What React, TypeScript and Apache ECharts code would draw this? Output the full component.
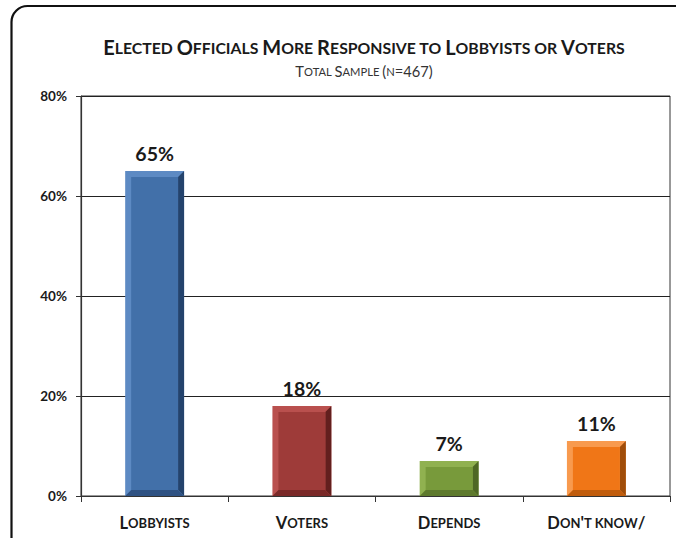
import React, { useEffect, useRef } from "react";
import * as echarts from "echarts";

const titleText = "Elected Officials More Responsive to Lobbyists or Voters";
const subtitleText = "Total Sample (n=467)";
const categories = ["Lobbyists", "Voters", "Depends", "Don't know/"];
const values = [65, 18, 7, 11];
const faceColors = ["#4270a9", "#9e3b39", "#789a3b", "#f07617"];
const lightColors = ["#5d8ac3", "#b9504e", "#90b150", "#f89a4e"];
const darkColors = ["#24436c", "#621f1e", "#4e6725", "#a04d0a"];
const midDarkColors = ["#2f5283", "#7a2928", "#5e7a2d", "#c05c0c"];
const yTicks = [0, 20, 40, 60, 80];

function toRich(s: string, big: string, small: string): string {
  let out = "";
  let cur = "";
  let curType = "";
  for (const ch of s) {
    const isLower = ch >= "a" && ch <= "z";
    const t = isLower ? small : ch === " " ? (curType || small) : big;
    const c = isLower ? ch.toUpperCase() : ch;
    if (t !== curType && cur) {
      out += `{${curType}|${cur}}`;
      cur = "";
    }
    curType = t;
    cur += c;
  }
  if (cur) out += `{${curType}|${cur}}`;
  return out;
}

export default function App() {
  const ref = useRef<HTMLDivElement>(null);
  useEffect(() => {
    if (!ref.current) return;
    const chart = echarts.init(ref.current, undefined, { renderer: "svg" });
    const font = "Lato, 'Open Sans', sans-serif";
    const option: any = {
      animation: false,
      backgroundColor: "#ffffff",
      grid: {
        left: 81,
        right: 6,
        top: 96,
        bottom: 42,
        show: true,
        borderColor: "#333",
        borderWidth: 1,
        backgroundColor: "transparent",
      },
      graphic: [
        {
          type: "rect",
          shape: { x: 11.5, y: 6, width: 720, height: 600, r: 16 },
          style: { fill: "none", stroke: "#111", lineWidth: 2.2 },
          silent: true,
        },
        {
          type: "text",
          x: 364,
          y: 47,
          style: {
            text: toRich(titleText, "tb", "ts"),
            textAlign: "center",
            textVerticalAlign: "middle",
            rich: {
              tb: { fontFamily: font, fontWeight: "bold", fontSize: 20, fill: "#1a1a1a" },
              ts: { fontFamily: font, fontWeight: "bold", fontSize: 15.8, fill: "#1a1a1a" },
            },
          },
        },
        {
          type: "text",
          x: 364,
          y: 71,
          style: {
            text: toRich(subtitleText, "sb", "ss"),
            textAlign: "center",
            textVerticalAlign: "middle",
            rich: {
              sb: { fontFamily: font, fontSize: 14.7, fill: "#333" },
              ss: { fontFamily: font, fontSize: 11.2, fill: "#333" },
            },
          },
        },
      ],
      xAxis: {
        type: "category",
        data: categories,
        axisLine: { show: true, lineStyle: { color: "#333", width: 1.2 } },
        axisTick: { show: true, length: 6, lineStyle: { color: "#333" } },
        splitLine: { show: false },
        axisLabel: {
          interval: 0,
          margin: 18,
          formatter: (v: string) => toRich(v, "cb", "cs"),
          rich: {
            cb: { fontFamily: font, fontWeight: "bold", fontSize: 16.5, color: "#1a1a1a" },
            cs: { fontFamily: font, fontWeight: "bold", fontSize: 13, color: "#1a1a1a" },
          },
        },
      },
      yAxis: {
        type: "value",
        min: 0,
        max: 80,
        interval: 20,
        axisLine: { show: true, lineStyle: { color: "#333", width: 1.2 } },
        axisTick: { show: true, length: 5, lineStyle: { color: "#333" } },
        splitLine: { show: true, lineStyle: { color: "#222", width: 1.2 } },
        axisLabel: {
          margin: 14,
          formatter: (v: number) => (yTicks.includes(v) ? `${v}%` : ""),
          fontFamily: font,
          fontWeight: "bold",
          fontSize: 13.5,
          color: "#1a1a1a",
        },
      },
      series: [
        {
          type: "bar",
          data: values,
          barWidth: "40%",
          itemStyle: { color: "rgba(0,0,0,0)" },
          label: {
            show: true,
            position: "top",
            distance: 8,
            formatter: "{c}%",
            fontFamily: font,
            fontWeight: "bold",
            fontSize: 19.5,
            color: "#1a1a1a",
          },
          z: 3,
        },
        {
          type: "custom",
          data: values.map((v, i) => [i, v]),
          z: 2,
          renderItem: (params: any, api: any) => {
            const idx = api.value(0);
            const val = api.value(1);
            const top = api.coord([idx, val]);
            const bot = api.coord([idx, 0]);
            const w = api.size([1, 0])[0] * 0.4;
            const x0 = top[0] - w / 2;
            const x1 = top[0] + w / 2;
            const y0 = top[1];
            const y1 = bot[1];
            const b = 6;
            return {
              type: "group",
              children: [
                {
                  type: "rect",
                  shape: { x: x0, y: y0, width: w, height: y1 - y0 },
                  style: { fill: lightColors[idx] },
                },
                {
                  type: "polygon",
                  shape: {
                    points: [
                      [x1, y0],
                      [x1, y1],
                      [x1 - b, y1 - b],
                      [x1 - b, y0 + b],
                    ],
                  },
                  style: { fill: darkColors[idx] },
                },
                {
                  type: "polygon",
                  shape: {
                    points: [
                      [x0, y1],
                      [x1, y1],
                      [x1 - b, y1 - b],
                      [x0 + b, y1 - b],
                    ],
                  },
                  style: { fill: midDarkColors[idx] },
                },
                {
                  type: "rect",
                  shape: { x: x0 + b, y: y0 + b, width: w - 2 * b, height: Math.max(0, y1 - y0 - 2 * b) },
                  style: { fill: faceColors[idx] },
                },
              ],
            };
          },
        },
      ],
    };
    chart.setOption(option);
    return () => chart.dispose();
  }, []);
  return <div ref={ref} style={{ width: 676, height: 538, position: "absolute", left: 0, top: 0 }} />;
}
